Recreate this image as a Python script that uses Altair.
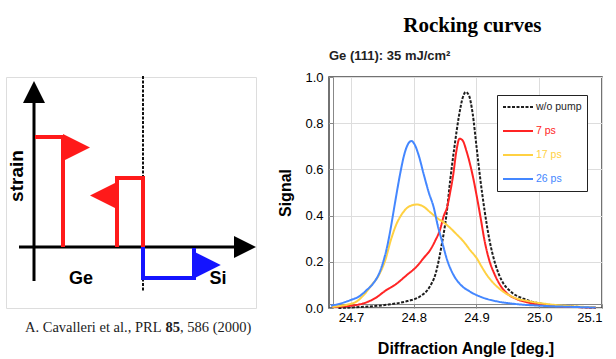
import altair as alt
import pandas as pd

# ---------------- Rocking curve data ----------------
series_names = ["w/o pump", "7 ps", "17 ps", "26 ps"]
series_colors = ["#1e1e1e", "#ff2424", "#ffd142", "#4487ff"]
series_dashes = [[3, 1.5], [1, 0], [1, 0], [1, 0]]

wo_x = [24.68, 24.72, 24.76, 24.79, 24.81, 24.825, 24.835, 24.845, 24.852, 24.858,
        24.865, 24.872, 24.878, 24.883, 24.888, 24.894, 24.900, 24.906, 24.913, 24.921,
        24.930, 24.940, 24.955, 24.975, 25.0, 25.03, 25.06, 25.09]
wo_y = [0.0, 0.005, 0.015, 0.03, 0.05, 0.09, 0.15, 0.28, 0.40, 0.55,
        0.70, 0.83, 0.91, 0.935, 0.92, 0.84, 0.70, 0.56, 0.42, 0.29,
        0.19, 0.12, 0.07, 0.04, 0.02, 0.01, 0.005, 0.0]

p7_x = [24.67, 24.70, 24.72, 24.74, 24.755, 24.77, 24.79, 24.805, 24.816, 24.826,
        24.834, 24.842, 24.848, 24.853, 24.858, 24.863, 24.868, 24.873, 24.878, 24.884,
        24.890, 24.895, 24.900, 24.906, 24.913, 24.920, 24.929, 24.940, 24.950, 24.963,
        24.98, 25.0, 25.03, 25.06, 25.09]
p7_y = [0.005, 0.01, 0.02, 0.045, 0.075, 0.10, 0.145, 0.18, 0.217, 0.25,
        0.29, 0.34, 0.40, 0.434, 0.50, 0.578, 0.68, 0.733, 0.725, 0.68,
        0.62, 0.56, 0.49, 0.40, 0.29, 0.21, 0.145, 0.09, 0.06, 0.04,
        0.025, 0.015, 0.008, 0.004, 0.002]

p17_x = [24.67, 24.685, 24.695, 24.71, 24.721, 24.733, 24.745, 24.755, 24.763, 24.772,
         24.782, 24.793, 24.805, 24.815, 24.826, 24.837, 24.848, 24.858, 24.868, 24.879,
         24.89, 24.90, 24.908, 24.916, 24.928, 24.942, 24.96, 24.984, 25.01, 25.05, 25.09]
p17_y = [0.005, 0.01, 0.015, 0.03, 0.058, 0.10, 0.145, 0.21, 0.289, 0.36,
         0.41, 0.44, 0.448, 0.44, 0.415, 0.39, 0.37, 0.347, 0.32, 0.289,
         0.25, 0.217, 0.18, 0.145, 0.105, 0.072, 0.045, 0.029, 0.018, 0.008, 0.003]

p26_x = [24.668, 24.684, 24.70, 24.713, 24.724, 24.735, 24.745, 24.752, 24.758, 24.763,
         24.768, 24.773, 24.779, 24.785, 24.791, 24.796, 24.801, 24.808, 24.816, 24.824,
         24.832, 24.838, 24.845, 24.853, 24.863, 24.875, 24.889, 24.91, 24.932, 24.96,
         25.0, 25.05, 25.09]
p26_y = [0.01, 0.02, 0.035, 0.05, 0.075, 0.105, 0.15, 0.205, 0.27, 0.34,
         0.42, 0.50, 0.59, 0.665, 0.71, 0.723, 0.71, 0.66, 0.578, 0.50,
         0.434, 0.36, 0.289, 0.21, 0.145, 0.10, 0.072, 0.045, 0.029, 0.018,
         0.01, 0.005, 0.002]

x_ticks = [24.7, 24.8, 24.9, 25.0, 25.1]
y_ticks = [0.0, 0.2, 0.4, 0.6, 0.8, 1.0]

# ---------------- Strain schematic data (depth, strain units) ----------------
axis_paths = {"vaxis": ([0, 0], [-34, 150]), "haxis": ([-15, 205], [0, 0])}
red_paths = {"red_a": ([1, 29, 29], [110, 110, 0]),
             "red_b": ([83, 83, 109, 109], [0, 69, 69, 0])}
blue_paths = {"blue": ([109, 109, 160, 160], [0, -31, -31, -1])}
interface_path = {"interface": ([109, 109], [171, -44])}

red_flag_depth = [42.5, 69.5]
red_flag_strain = [99.5, 51.5]
red_flag_dir = ["right", "left"]
blue_flag_depth = [173.5]
blue_flag_strain = [-18]
blue_flag_dir = ["right"]

arrow_depth = [0, 211]
arrow_strain = [155, 0]
arrow_dir = ["up", "right"]

label_text = ["Ge", "Si"]
label_depth = [47, 184]
label_strain = [-32, -32]

cite_parts = ["A. Cavalleri et al., PRL", "85", ", 586 (2000)"]
cite_depth = [127.5, 131.5, 146]
cite_strain = [-81, -81, -81]


def paths_df(d):
    rows = []
    for name, (xs, ys) in d.items():
        for k, (x, y) in enumerate(zip(xs, ys)):
            rows.append({"path": name, "k": k, "depth": x, "strain": y})
    return pd.DataFrame(rows)


SANS = "Liberation Sans"
SERIF = "Liberation Serif"

sx = alt.Scale(domain=[-28, 222], nice=False, zero=False)
sy = alt.Scale(domain=[-61, 170], nice=False, zero=False)
shapes = alt.Scale(domain=["right", "left", "up"],
                   range=["M-1,-1L1,0L-1,1Z", "M1,-1L-1,0L1,1Z", "M-1,1L0,-1L1,1Z"])


def enc_xy():
    return dict(x=alt.X("depth:Q", scale=sx, axis=None),
                y=alt.Y("strain:Q", scale=sy, axis=None))


def line_layer(d, color, width, dash=None):
    kw = dict(color=color, strokeWidth=width, strokeJoin="miter", strokeCap="butt")
    if dash:
        kw["strokeDash"] = dash
    return alt.Chart(paths_df(d)).mark_line(**kw).encode(
        detail="path:N", order="k:Q", **enc_xy())


def tri_layer(depth, strain, dirs, color, size):
    d = pd.DataFrame({"depth": depth, "strain": strain, "dir": dirs})
    return alt.Chart(d).mark_point(filled=True, size=size, opacity=1, strokeWidth=0,
                                   color=color).encode(
        shape=alt.Shape("dir:N", scale=shapes, legend=None), **enc_xy())


labels = alt.Chart(pd.DataFrame({"depth": label_depth, "strain": label_strain,
                                 "t": label_text})).mark_text(
    font=SANS, fontSize=18, fontWeight="bold", color="black").encode(text="t:N", **enc_xy())
strain_lbl = alt.Chart(pd.DataFrame({"depth": [-17], "strain": [71], "t": ["strain"]})).mark_text(
    font=SANS, fontSize=19, fontWeight="bold", color="black", angle=270).encode(
    text="t:N", **enc_xy())
cite_df = pd.DataFrame({"depth": cite_depth, "strain": cite_strain,
                        "t": cite_parts, "pos": [0, 1, 2]})
cite_1 = alt.Chart(cite_df).transform_filter("datum.pos == 0").mark_text(
    font=SERIF, fontSize=14.5, align="right", color="#222").encode(text="t:N", **enc_xy())
cite_2 = alt.Chart(cite_df).transform_filter("datum.pos == 1").mark_text(
    font=SERIF, fontSize=14.5, fontWeight="bold", align="left", color="#222").encode(
    text="t:N", **enc_xy())
cite_3 = alt.Chart(cite_df).transform_filter("datum.pos == 2").mark_text(
    font=SERIF, fontSize=14.5, align="left", color="#222").encode(text="t:N", **enc_xy())

left = alt.layer(
    line_layer(interface_path, "#111", 2, [3, 1.5]),
    line_layer(axis_paths, "black", 3),
    line_layer(red_paths, "#ff1a1a", 4),
    line_layer(blue_paths, "#1414ff", 4),
    tri_layer(red_flag_depth, red_flag_strain, red_flag_dir, "#ff1a1a", 729),
    tri_layer(blue_flag_depth, blue_flag_strain, blue_flag_dir, "#1414ff", 700),
    tri_layer(arrow_depth, arrow_strain, arrow_dir, "black", 484),
    labels, strain_lbl, cite_1, cite_2, cite_3,
).properties(width=250, height=231)

# ---------------- Rocking curves panel ----------------
rows = []
for name, xs, ys in zip(series_names, [wo_x, p7_x, p17_x, p26_x], [wo_y, p7_y, p17_y, p26_y]):
    for i, (x, y) in enumerate(zip(xs, ys)):
        rows.append({"series": name, "angle": x, "signal": y, "i": i})
df = pd.DataFrame(rows)

label_color_expr = " : ".join(
    f"datum.label == '{n}' ? '{c}'" for n, c in zip(series_names[:-1], series_colors[:-1])
) + f" : '{series_colors[-1]}'"

legend = alt.Legend(title=None, orient="none", legendX=168, legendY=18,
                    symbolType="stroke", symbolSize=900, symbolStrokeWidth=2,
                    clipHeight=14, rowPadding=10, padding=5,
                    labelFont=SANS, labelFontSize=10.5, labelOffset=2,
                    labelColor=alt.ExprRef(label_color_expr),
                    strokeColor="#222", fillColor="white")

curves = alt.Chart(df).mark_line(strokeWidth=2, interpolate="monotone").encode(
    x=alt.X("angle:Q", scale=alt.Scale(domain=[24.665, 25.1], nice=False, zero=False),
            axis=alt.Axis(values=x_ticks, format=".1f", title="Diffraction Angle [deg.]",
                          offset=-4, tickSize=4, labelPadding=3, titlePadding=16,
                          labelFontSize=13, titleFontSize=16)),
    y=alt.Y("signal:Q", scale=alt.Scale(domain=[0, 1], nice=False),
            axis=alt.Axis(values=y_ticks, format=".1f", title="Signal",
                          offset=-4, tickSize=4, labelPadding=6, titlePadding=11,
                          labelFontSize=13, titleFontSize=16)),
    color=alt.Color("series:N", scale=alt.Scale(domain=series_names, range=series_colors),
                    legend=legend),
    strokeDash=alt.StrokeDash("series:N", scale=alt.Scale(domain=series_names, range=series_dashes),
                              legend=legend),
    order="i:Q",
)

right = curves.properties(
    width=273, height=231,
    view=alt.ViewBackground(stroke="#444", strokeWidth=1.5),
    title=alt.TitleParams("Ge (111): 35 mJ/cm²", anchor="start", frame="group", font=SANS,
                          fontSize=13, fontWeight="bold", color="#222", offset=8),
)

chart = alt.hconcat(left, right, spacing=20).properties(
    title=alt.TitleParams("Rocking curves", font=SERIF, fontSize=21, fontWeight="bold",
                          color="black", anchor="middle", dx=168, offset=13),
).resolve_scale(color="independent", strokeDash="independent").configure_view(
    strokeWidth=0
).configure_axis(
    labelFont=SANS, labelFontWeight="bold", labelColor="#333",
    titleFont=SANS, titleFontWeight="bold", titleColor="#222",
    domain=False, grid=False, tickColor="#444", tickWidth=1,
).configure(background="white", padding={"top": 15, "left": 5, "right": 5, "bottom": 5})

chart.save("out.html", embed_options={"renderer": "svg", "actions": False})
